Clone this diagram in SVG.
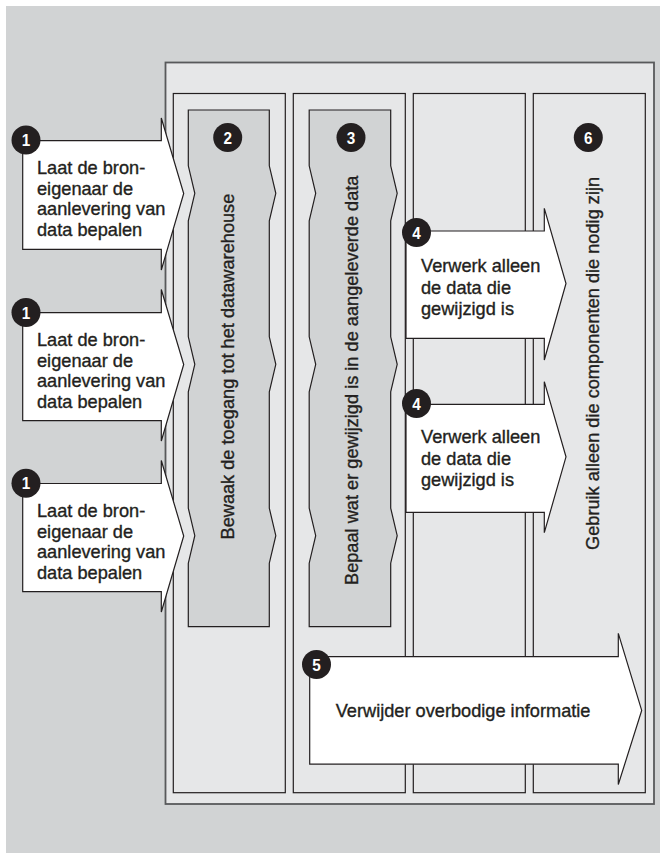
<svg xmlns="http://www.w3.org/2000/svg" width="660" height="853" viewBox="0 0 660 853">
<style>
.bg{fill:#d1d3d4}
.panel{fill:#e6e7e8;stroke:#58595b;stroke-width:1.8}
.col{fill:#e6e7e8;stroke:#231f20;stroke-width:1.2}
.band{fill:#d1d3d4;stroke:#231f20;stroke-width:1.2}
.arrow{fill:#ffffff;stroke:#231f20;stroke-width:1.2;stroke-linejoin:miter}
.t{font-family:"Liberation Sans",Arial,sans-serif;font-size:18.2px;fill:#231f20;stroke:#231f20;stroke-width:0.35}
.badge{fill:#231f20}
.num{font-family:"Liberation Sans",Arial,sans-serif;font-size:17px;font-weight:bold;fill:#ffffff;text-anchor:middle}
</style>
<rect class="bg" x="6" y="6" width="654" height="847"/>
<g id="panel">
<rect class="panel" x="165.5" y="62.5" width="488.5" height="741.5"/>
<rect class="col" x="173.3" y="93.5" width="112" height="699.2"/>
<rect class="col" x="293.3" y="93.5" width="112" height="699.2"/>
<rect class="col" x="413.3" y="93.5" width="112" height="699.2"/>
<rect class="col" x="533.3" y="93.5" width="112" height="699.2"/>
</g>
<g id="node-2">
<path class="band" d="M188.3,110 L269.3,110 L269.3,165.8 L275.8,193.3 L269.3,220.8 L269.3,336.8 L275.8,364.3 L269.3,391.8 L269.3,508.2 L275.8,535.7 L269.3,563.2 L269.3,626.7 L188.3,626.7 L188.3,563.2 L194.8,535.7 L188.3,508.2 L188.3,391.8 L194.8,364.3 L188.3,336.8 L188.3,220.8 L194.8,193.3 L188.3,165.8 Z"/>
<circle class="badge" cx="227.7" cy="137.5" r="14.5"/>
<text class="num" transform="translate(227.7,143.5) scale(0.9,1)">2</text>
<text class="t" transform="translate(234,539.5) rotate(-90)">Bewaak de toegang tot het datawarehouse</text>
</g>
<g id="node-3">
<path class="band" d="M309.2,110 L390.7,110 L390.7,165.8 L397.2,193.3 L390.7,220.8 L390.7,336.8 L397.2,364.3 L390.7,391.8 L390.7,508.2 L397.2,535.7 L390.7,563.2 L390.7,626.7 L309.2,626.7 L309.2,563.2 L315.7,535.7 L309.2,508.2 L309.2,391.8 L315.7,364.3 L309.2,336.8 L309.2,220.8 L315.7,193.3 L309.2,165.8 Z"/>
<circle class="badge" cx="351" cy="137.5" r="14.5"/>
<text class="num" transform="translate(351,143.5) scale(0.9,1)">3</text>
<text class="t" transform="translate(357.5,585) rotate(-90)">Bepaal wat er gewijzigd is in de aangeleverde data</text>
</g>
<g id="node-6">
<circle class="badge" cx="588.3" cy="137.5" r="14.5"/>
<text class="num" transform="translate(588.3,143.5) scale(0.9,1)">6</text>
<text class="t" transform="translate(598.5,550) rotate(-90)">Gebruik alleen die componenten die nodig zijn</text>
</g>
<g id="node-1a">
<polygon class="arrow" points="22.7,140.7 161.3,140.7 161.3,118 183.7,193.5 161.3,270 161.3,249.3 22.7,249.3"/>
<circle class="badge" cx="26" cy="140" r="14.5"/>
<text class="num" transform="translate(26,146) scale(0.9,1)">1</text>
<text class="t" transform="translate(37,174)"><tspan x="0" y="0">Laat de bron-</tspan><tspan x="0" y="20.5">eigenaar de</tspan><tspan x="0" y="41">aanlevering van</tspan><tspan x="0" y="61.5">data bepalen</tspan></text>
</g>
<g id="node-1b">
<polygon class="arrow" points="22.7,312.7 161.3,312.7 161.3,289.5 183.7,364.5 161.3,441 161.3,420.7 22.7,420.7"/>
<circle class="badge" cx="26" cy="312.5" r="14.5"/>
<text class="num" transform="translate(26,318.5) scale(0.9,1)">1</text>
<text class="t" transform="translate(37,346)"><tspan x="0" y="0">Laat de bron-</tspan><tspan x="0" y="20.5">eigenaar de</tspan><tspan x="0" y="41">aanlevering van</tspan><tspan x="0" y="61.5">data bepalen</tspan></text>
</g>
<g id="node-1c">
<polygon class="arrow" points="22.7,483.5 161.3,483.5 161.3,460.5 183.7,536 161.3,612 161.3,591.7 22.7,591.7"/>
<circle class="badge" cx="26" cy="483.3" r="14.5"/>
<text class="num" transform="translate(26,489.3) scale(0.9,1)">1</text>
<text class="t" transform="translate(37,517)"><tspan x="0" y="0">Laat de bron-</tspan><tspan x="0" y="20.5">eigenaar de</tspan><tspan x="0" y="41">aanlevering van</tspan><tspan x="0" y="61.5">data bepalen</tspan></text>
</g>
<g id="node-4a">
<polygon class="arrow" points="406,231 544.3,231 544.3,208.3 566,283.5 544.3,360 544.3,338.3 406,338.3"/>
<circle class="badge" cx="416.5" cy="232.5" r="14.5"/>
<text class="num" transform="translate(416.5,238.5) scale(0.9,1)">4</text>
<text class="t" transform="translate(421,272)"><tspan x="0" y="0">Verwerk alleen</tspan><tspan x="0" y="21.5">de data die</tspan><tspan x="0" y="43">gewijzigd is</tspan></text>
</g>
<g id="node-4b">
<polygon class="arrow" points="406,404.3 544.3,404.3 544.3,381.7 566,456.8 544.3,532.7 544.3,512.3 406,512.3"/>
<circle class="badge" cx="416.5" cy="403.5" r="14.5"/>
<text class="num" transform="translate(416.5,409.5) scale(0.9,1)">4</text>
<text class="t" transform="translate(421,443)"><tspan x="0" y="0">Verwerk alleen</tspan><tspan x="0" y="21.5">de data die</tspan><tspan x="0" y="43">gewijzigd is</tspan></text>
</g>
<g id="node-5">
<polygon class="arrow" points="309.7,656.7 618.3,656.7 618.3,633.3 641.7,710.4 618.3,784.5 618.3,764.2 309.7,764.2"/>
<circle class="badge" cx="316.5" cy="664.5" r="14.5"/>
<text class="num" transform="translate(316.5,670.5) scale(0.9,1)">5</text>
<text class="t" transform="translate(335.7,717.3)">Verwijder overbodige informatie</text>
</g>
</svg>
